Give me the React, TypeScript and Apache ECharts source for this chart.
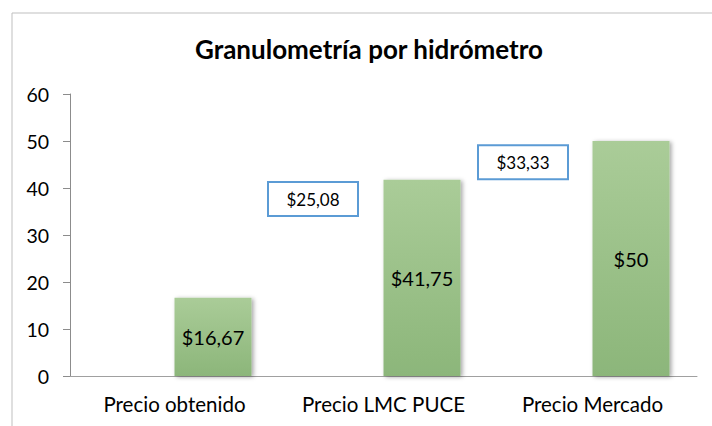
import React, { useEffect, useRef } from "react";
import * as echarts from "echarts";

const categories = ["Precio obtenido", "Precio LMC PUCE", "Precio Mercado"];
const priceValues = [16.67, 41.75, 50];
const differenceValues: (number | null)[] = [null, 25.08, 33.33];
const yTicks = { min: 0, max: 60, interval: 10 };
const titleText = "Granulometría por hidrómetro";

const FONT = "Lato, 'Noto Sans', sans-serif";
const boxOffsets: [number, number][] = [[0, 0], [-32, -59], [-31, -57]];

const fmt = (v: number) => "$" + String(v).replace(".", ",");

export default function App() {
  const ref = useRef<HTMLDivElement>(null);
  useEffect(() => {
    if (!ref.current) return;
    const chart = echarts.init(ref.current, null, { renderer: "svg" });
    const option: any = {
      animation: false,
      backgroundColor: "#ffffff",
      textStyle: { fontFamily: FONT },
      title: {
        text: titleText,
        left: 364,
        textAlign: "center",
        top: 31,
        textStyle: { fontFamily: FONT, fontSize: 26, fontWeight: "bold", color: "#000000" },
      },
      graphic: [
        {
          type: "rect",
          shape: { x: 12, y: 13, width: 800, height: 500 },
          style: { fill: "none", stroke: "#BFBFBF", lineWidth: 1 },
          silent: true,
        },
      ],
      grid: { left: 70, right: 15, top: 94, bottom: 50, containLabel: false },
      xAxis: {
        type: "category",
        data: categories,
        boundaryGap: true,
        axisLine: { show: true, lineStyle: { color: "#A0A0A0", width: 1 } },
        axisTick: { show: false },
        axisLabel: {
          fontFamily: FONT,
          fontSize: 20.5,
          color: "#000000",
          margin: 17,
          interval: 0,
          hideOverlap: false,
        },
      },
      yAxis: {
        type: "value",
        min: yTicks.min,
        max: yTicks.max,
        interval: yTicks.interval,
        axisLine: { show: true, lineStyle: { color: "#8C8C8C", width: 1 } },
        axisTick: { show: true, inside: false, length: 7, lineStyle: { color: "#8C8C8C" } },
        splitLine: { show: false },
        axisLabel: { fontFamily: FONT, fontSize: 19.5, color: "#000000", margin: 21 },
      },
      series: [
        {
          type: "bar",
          name: "Diferencia",
          data: differenceValues.map((v, i) =>
            v == null
              ? "-"
              : {
                  value: v,
                  label: {
                    show: true,
                    position: "top",
                    distance: 0,
                    offset: boxOffsets[i],
                    formatter: () => fmt(v),
                    fontFamily: FONT,
                    fontSize: 17,
                    color: "#000000",
                    backgroundColor: "#ffffff",
                    borderColor: "#5B9BD5",
                    borderWidth: 2,
                    width: 88,
                    height: 32,
                    lineHeight: 32,
                    align: "center",
                    verticalAlign: "middle",
                  },
                }
          ),
          barWidth: 77,
          barGap: "0%",
          itemStyle: { color: "rgba(0,0,0,0)" },
          emphasis: { disabled: true },
          silent: true,
        },
        {
          type: "bar",
          name: "Precio",
          data: priceValues,
          barWidth: 77,
          barGap: "0%",
          itemStyle: {
            color: new echarts.graphic.LinearGradient(0, 0, 0, 1, [
              { offset: 0, color: "#AACC98" },
              { offset: 1, color: "#8CB67A" },
            ]),
            shadowColor: "rgba(0,0,0,0.35)",
            shadowBlur: 4,
            shadowOffsetX: 2,
            shadowOffsetY: 1,
          },
          label: {
            show: true,
            position: "inside",
            formatter: (p: any) => fmt(p.value),
            fontFamily: FONT,
            fontSize: 20,
            color: "#000000",
          },
          emphasis: { disabled: true },
          silent: true,
        },
      ],
    };
    chart.setOption(option);
    return () => chart.dispose();
  }, []);
  return (
    <div
      ref={ref}
      style={{ position: "fixed", left: 0, top: 0, width: 712, height: 426, background: "#fff" }}
    />
  );
}
